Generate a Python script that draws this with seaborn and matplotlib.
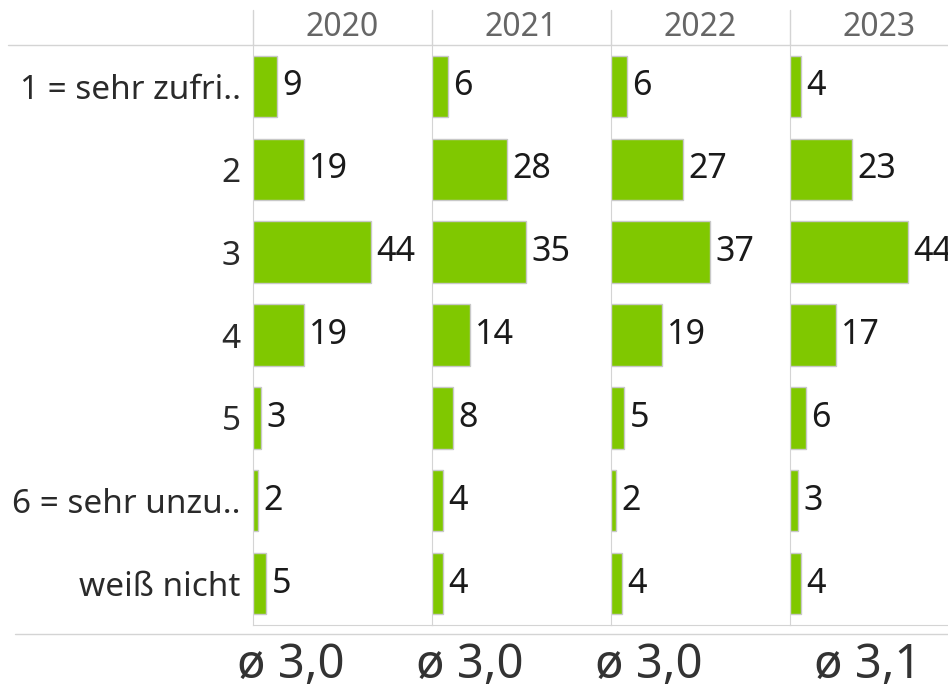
import matplotlib
matplotlib.use("Agg")
import matplotlib.pyplot as plt
import seaborn as sns
import pandas as pd
from matplotlib.lines import Line2D

# categories and values
answers = ["1 = sehr zufri..", "2", "3", "4", "5", "6 = sehr unzu..", "weiß nicht"]
years = ["2020", "2021", "2022", "2023"]
values = {
    "2020": [9, 19, 44, 19, 3, 2, 5],
    "2021": [6, 28, 35, 14, 8, 4, 4],
    "2022": [6, 27, 37, 19, 5, 2, 4],
    "2023": [4, 23, 44, 17, 6, 3, 4],
}
averages = ["3,0", "3,0", "3,0", "3,1"]

sns.set_style("white")
plt.rcParams["font.family"] = ["Noto Sans", "DejaVu Sans"]

W, H = 948, 694
fig = plt.figure(figsize=(W / 100, H / 100), dpi=100)

green = "#80c800"
grid = "#d4d4d4"
panel_left = 253
panel_w = 179
top, bottom = 45, 625
avg_centers = [291, 470, 649, 868]  # the average row sits offset from the panels

for i, year in enumerate(years):
    df = pd.DataFrame({"answer": answers, "pct": values[year]})
    x0 = panel_left + i * panel_w
    ax = fig.add_axes([x0 / W, 1 - bottom / H, panel_w / W, (bottom - top) / H])
    sns.barplot(data=df, y="answer", x="pct", order=answers, orient="h",
                color=green, edgecolor="#c8c8c8", linewidth=1.0, width=0.74,
                saturation=1, ax=ax)
    ax.set_xlim(0, 66.7)
    ax.set_ylim(6.5, -0.5)
    ax.set_xlabel("")
    ax.set_ylabel("")
    ax.set_xticks([])
    for s in ["top", "right"]:
        ax.spines[s].set_visible(False)
    ax.spines["left"].set_color(grid)
    ax.spines["bottom"].set_color(grid)
    ax.patch.set_alpha(0)
    for j, v in enumerate(values[year]):
        ax.text(v + 2.0, j, str(v), va="center", ha="left", fontsize=24.5, color="#1a1a1a")
    if i == 0:
        ax.tick_params(axis="y", length=0, pad=9, labelsize=24, labelcolor="#2a2a2a")
    else:
        ax.set_yticklabels([])
        ax.tick_params(axis="y", length=0)
    # header year and bottom average
    cx = (x0 + panel_w / 2) / W
    fig.text(cx, 1 - 28 / H, year, ha="center", va="center", fontsize=23, color="#666666")
    fig.text(avg_centers[i] / W, 1 - 666 / H, "ø " + averages[i], ha="center", va="center",
             fontsize=34, color="#333333")
    # vertical separator up into header
    fig.add_artist(Line2D([x0 / W, x0 / W], [1 - 10 / H, 1 - top / H],
                          color=grid, lw=1))

fig.add_artist(Line2D([8 / W, 1], [1 - top / H, 1 - top / H], color=grid, lw=1))
fig.add_artist(Line2D([15 / W, 1], [1 - 634 / H, 1 - 634 / H], color=grid, lw=1))

fig.savefig("out.png", dpi=100)
